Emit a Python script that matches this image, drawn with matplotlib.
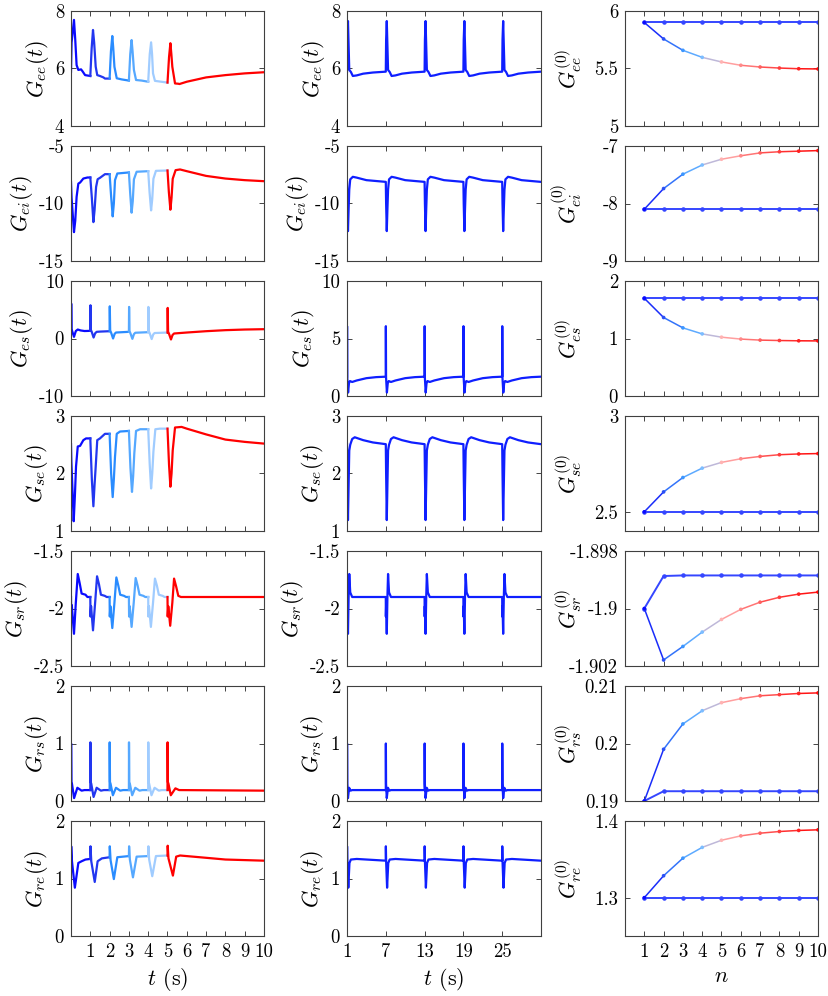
import numpy as np
import matplotlib
matplotlib.use('Agg')
import matplotlib.pyplot as plt
from matplotlib.collections import LineCollection
from matplotlib.colors import to_rgb

plt.rcParams.update({
    'font.family': 'cmr10',
    'mathtext.fontset': 'cm',
    'axes.unicode_minus': False,
    'axes.formatter.use_mathtext': True,
})

# ---- column 1: first 10 s, five stimulation cycles then relaxation ----
gee_t1 = [0, 0.03, 0.155, 0.22, 0.29, 0.38, 0.52, 0.59, 0.73, 1.0,
          1.07, 1.14, 1.2, 1.28, 1.36, 1.5, 1.68, 1.76, 2.0,
          2.07, 2.14, 2.19, 2.25, 2.37, 2.63, 3.0,
          3.07, 3.14, 3.19, 3.26, 3.37, 3.66, 4.0,
          4.08, 4.15, 4.2, 4.25, 4.35, 5.0,
          5.08, 5.15, 5.2, 5.25, 5.39, 5.56, 5.62, 6, 7, 8, 9, 10]
gee_v1 = [5.89, 6.9, 7.69, 7.0, 6.12, 5.95, 5.97, 5.91, 5.77, 5.74,
          6.7, 7.34, 6.9, 6.06, 5.77, 5.74, 5.69, 5.65, 5.65,
          6.6, 7.13, 6.7, 6.06, 5.66, 5.62, 5.58,
          6.5, 6.99, 6.6, 5.95, 5.6, 5.58, 5.54,
          6.5, 6.91, 6.5, 5.83, 5.57, 5.51,
          6.4, 6.88, 6.5, 6.06, 5.48, 5.47, 5.46, 5.54, 5.69, 5.77, 5.83, 5.87]

gei_t1 = [0, 0.03, 0.155, 0.22, 0.29, 0.38, 0.47, 0.64, 0.85, 1.0,
          1.08, 1.16, 1.22, 1.3, 1.38, 1.5, 1.76, 2.0,
          2.08, 2.16, 2.22, 2.28, 2.4, 3.0,
          3.07, 3.14, 3.2, 3.26, 3.4, 4.0,
          4.07, 4.15, 4.21, 4.27, 4.4, 5.0,
          5.07, 5.15, 5.21, 5.27, 5.42, 5.65, 6, 7, 8, 9, 10]
gei_v1 = [-8.12, -9.5, -12.49, -11.5, -9.43, -8.27, -8.18, -7.83, -7.74, -7.74,
          -9.5, -11.62, -10.6, -8.56, -7.89, -7.77, -7.45, -7.45,
          -9.4, -11.12, -10.0, -7.97, -7.39, -7.3,
          -9.2, -10.8, -9.8, -7.9, -7.24, -7.19,
          -9.0, -10.6, -9.6, -7.85, -7.16, -7.13,
          -9.0, -10.54, -9.5, -7.85, -7.1, -7.04, -7.19, -7.6, -7.83, -7.97, -8.06]

ges_t1 = [0, 0.01, 0.03, 0.07, 0.155, 0.25, 0.35, 0.5, 0.7, 1.0,
          1.01, 1.03, 1.08, 1.17, 1.25, 1.33, 1.5, 2.0,
          2.01, 2.03, 2.08, 2.18, 2.26, 2.33, 3.0,
          3.01, 3.03, 3.08, 3.18, 3.26, 3.33, 4.0,
          4.01, 4.03, 4.08, 4.18, 4.26, 4.33, 5.0,
          5.01, 5.03, 5.08, 5.18, 5.26, 5.34, 6, 7, 8, 9, 10]
ges_v1 = [1.7, 6.07, 1.6, 1.2, 0.29, 1.3, 1.56, 1.4, 1.3, 1.33,
          5.78, 1.5, 1.1, 0.17, 0.9, 1.16, 1.2, 1.27,
          5.6, 1.4, 1.0, 0.0, 0.8, 1.04, 1.16,
          5.49, 1.3, 0.9, -0.06, 0.75, 1.0, 1.1,
          5.49, 1.3, 0.9, -0.1, 0.7, 0.95, 1.04,
          5.32, 1.2, 0.8, -0.17, 0.6, 0.87, 1.04, 1.27, 1.45, 1.56, 1.62]

gse_t1 = [0, 0.02, 0.14, 0.2, 0.26, 0.35, 0.47, 0.64, 0.78, 1.0,
          1.08, 1.16, 1.22, 1.28, 1.36, 1.5, 1.76, 2.0,
          2.08, 2.16, 2.22, 2.28, 2.37, 2.54, 3.0,
          3.08, 3.16, 3.22, 3.28, 3.37, 3.58, 4.0,
          4.08, 4.15, 4.21, 4.27, 4.37, 4.61, 5.0,
          5.08, 5.15, 5.21, 5.27, 5.39, 5.73, 6, 7, 8, 9, 10]
gse_v1 = [2.51, 2.2, 1.17, 1.6, 2.12, 2.47, 2.48, 2.58, 2.61, 2.61,
          1.9, 1.43, 1.8, 2.12, 2.58, 2.61, 2.69, 2.69,
          2.0, 1.59, 1.9, 2.29, 2.69, 2.73, 2.74,
          2.1, 1.68, 1.95, 2.35, 2.74, 2.77, 2.77,
          2.15, 1.74, 2.0, 2.38, 2.77, 2.78, 2.78,
          2.15, 1.77, 2.0, 2.4, 2.8, 2.81, 2.78, 2.68, 2.59, 2.55, 2.52]

gsr_t1 = [0, 0.01, 0.04, 0.155, 0.25, 0.35, 0.45, 0.55, 0.75, 0.85, 1.0,
          1.01, 1.04, 1.14, 1.25, 1.35, 1.45, 1.55, 1.75, 1.85, 2.0,
          2.01, 2.04, 2.14, 2.25, 2.35, 2.45, 2.55, 2.75, 2.85, 3.0,
          3.01, 3.04, 3.14, 3.25, 3.35, 3.45, 3.55, 3.75, 3.85, 4.0,
          4.01, 4.04, 4.14, 4.25, 4.35, 4.45, 4.55, 4.75, 4.85, 5.0,
          5.01, 5.04, 5.14, 5.25, 5.34, 5.45, 5.56, 5.7, 10]
gsr_v1 = [-1.9, -2.07, -1.97, -2.22, -1.95, -1.70, -1.78, -1.87, -1.88, -1.9, -1.9,
          -2.07, -1.98, -2.19, -1.95, -1.72, -1.79, -1.88, -1.89, -1.9, -1.9,
          -2.07, -1.98, -2.17, -1.95, -1.73, -1.8, -1.88, -1.89, -1.9, -1.9,
          -2.07, -1.98, -2.16, -1.95, -1.735, -1.8, -1.88, -1.89, -1.9, -1.9,
          -2.07, -1.98, -2.16, -1.95, -1.74, -1.8, -1.88, -1.89, -1.9, -1.9,
          -2.07, -1.98, -2.15, -1.95, -1.74, -1.81, -1.89, -1.9, -1.9]

grs_t1 = [0, 0.005, 0.02, 0.05, 0.16, 0.33, 0.55, 0.7, 1.0,
          1.005, 1.02, 1.05, 1.17, 1.33, 1.55, 1.7, 2.0,
          2.005, 2.02, 2.05, 2.17, 2.33, 2.55, 2.7, 3.0,
          3.005, 3.02, 3.05, 3.17, 3.33, 3.55, 3.7, 4.0,
          4.005, 4.02, 4.05, 4.17, 4.33, 4.55, 4.7, 5.0,
          5.005, 5.02, 5.05, 5.17, 5.41, 5.6, 10]
grs_v1 = [0.19, 1.0, 0.33, 0.3, 0.05, 0.23, 0.18, 0.19, 0.19,
          1.02, 0.33, 0.3, 0.07, 0.23, 0.18, 0.19, 0.19,
          1.02, 0.33, 0.3, 0.1, 0.23, 0.18, 0.19, 0.19,
          1.02, 0.33, 0.3, 0.1, 0.23, 0.18, 0.19, 0.19,
          1.02, 0.33, 0.3, 0.1, 0.23, 0.18, 0.19, 0.19,
          1.02, 0.33, 0.3, 0.1, 0.22, 0.19, 0.18]

gre_t1 = [0, 0.01, 0.05, 0.2, 0.38, 0.55, 0.75, 1.0,
          1.01, 1.05, 1.23, 1.38, 1.6, 2.0,
          2.01, 2.05, 2.22, 2.4, 3.0,
          3.01, 3.05, 3.21, 3.4, 4.0,
          4.01, 4.05, 4.21, 4.4, 5.0,
          5.01, 5.05, 5.28, 5.45, 5.65, 7, 8, 10]
gre_v1 = [1.3, 1.56, 1.3, 0.84, 1.27, 1.3, 1.33, 1.34,
          1.56, 1.3, 0.94, 1.3, 1.35, 1.37,
          1.56, 1.32, 0.99, 1.37, 1.39,
          1.56, 1.33, 1.02, 1.38, 1.39,
          1.56, 1.33, 1.04, 1.39, 1.4,
          1.57, 1.35, 1.05, 1.38, 1.4, 1.36, 1.33, 1.31]

# ---- column 2: one 6 s period (time after spike onset), repeated at each onset ----
onsets2 = [1, 7, 13, 19, 25]
gee_r2 = [0, 0.05, 0.15, 0.25, 0.35, 0.6, 0.9, 1.5, 2.5, 4, 6]
gee_v2 = [5.89, 7.0, 7.65, 6.8, 5.95, 5.88, 5.74, 5.76, 5.82, 5.86, 5.89]
gei_r2 = [0, 0.05, 0.15, 0.25, 0.35, 0.5, 0.9, 1.5, 3, 6]
gei_v2 = [-8.12, -10.0, -12.4, -10.5, -8.8, -7.9, -7.68, -7.75, -7.97, -8.12]
ges_r2 = [0, 0.01, 0.04, 0.1, 0.17, 0.3, 0.45, 0.8, 1.5, 3, 4.5, 6]
ges_v2 = [1.68, 6.07, 1.6, 1.0, 0.3, 1.1, 1.3, 1.22, 1.35, 1.55, 1.64, 1.68]
gse_r2 = [0, 0.05, 0.15, 0.25, 0.35, 0.5, 0.8, 1.2, 2.5, 4, 6]
gse_v2 = [2.51, 2.0, 1.19, 1.8, 2.4, 2.5, 2.6, 2.63, 2.58, 2.54, 2.51]
gsr_r2 = [0, 0.01, 0.05, 0.15, 0.25, 0.35, 0.5, 0.8, 6]
gsr_v2 = [-1.9, -2.07, -1.98, -2.22, -1.9, -1.70, -1.86, -1.9, -1.9]
grs_r2 = [0, 0.01, 0.04, 0.15, 0.33, 0.55, 0.8, 6]
grs_v2 = [0.19, 1.0, 0.3, 0.05, 0.23, 0.18, 0.19, 0.19]
gre_r2 = [0, 0.01, 0.05, 0.2, 0.38, 0.6, 1.5, 6]
gre_v2 = [1.31, 1.56, 1.3, 0.84, 1.27, 1.33, 1.34, 1.31]

# ---- column 3: G^(0) against iteration n ----
n_iter = [1, 2, 3, 4, 5, 6, 7, 8, 9, 10]
gee_c = [5.9, 5.9, 5.9, 5.9, 5.9, 5.9, 5.9, 5.9, 5.9, 5.9]
gee_n = [5.9, 5.757, 5.658, 5.597, 5.557, 5.528, 5.513, 5.504, 5.498, 5.496]
gei_c = [-8.1, -8.1, -8.1, -8.1, -8.1, -8.1, -8.1, -8.1, -8.1, -8.1]
gei_n = [-8.1, -7.74, -7.49, -7.33, -7.23, -7.17, -7.12, -7.10, -7.09, -7.08]
ges_c = [1.7, 1.7, 1.7, 1.7, 1.7, 1.7, 1.7, 1.7, 1.7, 1.7]
ges_n = [1.7, 1.365, 1.185, 1.08, 1.023, 0.99, 0.972, 0.965, 0.96, 0.958]
gse_c = [2.5, 2.5, 2.5, 2.5, 2.5, 2.5, 2.5, 2.5, 2.5, 2.5]
gse_n = [2.5, 2.604, 2.679, 2.728, 2.758, 2.777, 2.789, 2.798, 2.802, 2.804]
gsr_c = [-1.9, -1.89887, -1.89885, -1.89885, -1.89885, -1.89885, -1.89885, -1.89885, -1.89885, -1.89885]
gsr_n = [-1.9, -1.90179, -1.90132, -1.90082, -1.90038, -1.90003, -1.89978, -1.89961, -1.8995, -1.89943]
grs_c = [0.19, 0.1917, 0.1917, 0.1917, 0.1917, 0.1917, 0.1917, 0.1917, 0.1917, 0.1917]
grs_n = [0.19, 0.199, 0.2034, 0.2057, 0.2071, 0.2078, 0.2083, 0.2085, 0.2087, 0.2088]
gre_c = [1.3, 1.3, 1.3, 1.3, 1.3, 1.3, 1.3, 1.3, 1.3, 1.3]
gre_n = [1.3, 1.3286, 1.3515, 1.3656, 1.3749, 1.3806, 1.3841, 1.3863, 1.3877, 1.3885]

subs = ['ee', 'ei', 'es', 'se', 'sr', 'rs', 're']
col1 = [(gee_t1, gee_v1), (gei_t1, gei_v1), (ges_t1, ges_v1), (gse_t1, gse_v1),
        (gsr_t1, gsr_v1), (grs_t1, grs_v1), (gre_t1, gre_v1)]
col2 = [(gee_r2, gee_v2), (gei_r2, gei_v2), (ges_r2, ges_v2), (gse_r2, gse_v2),
        (gsr_r2, gsr_v2), (grs_r2, grs_v2), (gre_r2, gre_v2)]
col3 = [(gee_c, gee_n), (gei_c, gei_n), (ges_c, ges_n), (gse_c, gse_n),
        (gsr_c, gsr_n), (grs_c, grs_n), (gre_c, gre_n)]

ylims1 = [(4, 8), (-15, -5), (-10, 10), (1, 3), (-2.5, -1.5), (0, 2), (0, 2)]
yticks1 = [[4, 6, 8], [-15, -10, -5], [-10, 0, 10], [1, 2, 3], [-2.5, -2, -1.5], [0, 1, 2], [0, 1, 2]]
ylabs1 = [['4', '6', '8'], ['-15', '-10', '-5'], ['-10', '0', '10'], ['1', '2', '3'],
          ['-2.5', '-2', '-1.5'], ['0', '1', '2'], ['0', '1', '2']]
ylims2 = [(4, 8), (-15, -5), (0, 10), (1, 3), (-2.5, -1.5), (0, 2), (0, 2)]
yticks2 = [[4, 6, 8], [-15, -10, -5], [0, 5, 10], [1, 2, 3], [-2.5, -2, -1.5], [0, 1, 2], [0, 1, 2]]
ylabs2 = [['4', '6', '8'], ['-15', '-10', '-5'], ['0', '5', '10'], ['1', '2', '3'],
          ['-2.5', '-2', '-1.5'], ['0', '1', '2'], ['0', '1', '2']]
ylims3 = [(5, 6), (-9, -7), (0, 2), (2.4, 3), (-1.902, -1.898), (0.19, 0.21), (1.25, 1.4)]
yticks3 = [[5, 5.5, 6], [-9, -8, -7], [0, 1, 2], [2.5, 3], [-1.902, -1.9, -1.898], [0.19, 0.2, 0.21], [1.3, 1.4]]
ylabs3 = [['5', '5.5', '6'], ['-9', '-8', '-7'], ['0', '1', '2'], ['2.5', '3'],
          ['-1.902', '-1.9', '-1.898'], ['0.19', '0.2', '0.21'], ['1.3', '1.4']]

cyc_colors = ['#0a0aff', '#2236f0', '#2a8cff', '#55a8ff', '#a0ccff', '#ff0000']
cyc_bounds = [(0, 1), (1, 2), (2, 3), (3, 4), (4, 5), (5, 10)]
n_colors = ['#0a0aff', '#2a50f5', '#3c96ff', '#7dbdff', '#ffb3b3',
            '#ff8a8a', '#ff6060', '#ff3c3c', '#ff2020', '#ff0a0a']
blue2 = '#0f1fff'
const_col = '#3546ff'

W, H = 829, 996
fig = plt.figure(figsize=(W / 100, H / 100), dpi=100)
lefts = [71, 347, 625]
widths = [193, 194, 193]
tops = [11, 146, 281, 416, 551, 686, 821]
ah = 115
tick_fs = 13.5
lab_fs = 16


def style(ax):
    ax.tick_params(direction='in', top=True, right=True, length=3.5, width=0.6,
                   labelsize=tick_fs, color='#262626', pad=5)
    for s in ax.spines.values():
        s.set_color('#404040')
        s.set_linewidth(0.8)


for i in range(7):
    bottom = 1 - (tops[i] + ah) / H
    axs = [fig.add_axes([lefts[c] / W, bottom, widths[c] / W, ah / H]) for c in range(3)]
    last = (i == 6)

    # column 1
    ax = axs[0]
    t = np.array(col1[i][0])
    v = np.array(col1[i][1])
    for (a, b), c in zip(cyc_bounds, cyc_colors):
        m = (t >= a) & (t <= b)
        ax.plot(t[m], v[m], color=c, lw=1.6)
    ax.set_xlim(0, 10)
    ax.set_xticks(range(1, 11))
    ax.set_ylim(*ylims1[i])
    ax.set_yticks(yticks1[i])
    ax.set_yticklabels(ylabs1[i])
    ax.set_ylabel(r'$G_{%s}(t)$' % subs[i], fontsize=lab_fs, labelpad=3)

    # column 2
    ax = axs[1]
    rel = np.array(col2[i][0])
    vals = np.array(col2[i][1])
    tt = np.concatenate([t0 + rel for t0 in onsets2])
    vv = np.concatenate([vals for _ in onsets2])
    ax.plot(tt, vv, color=blue2, lw=1.6)
    ax.set_xlim(1, 31)
    ax.set_xticks(onsets2)
    ax.set_ylim(*ylims2[i])
    ax.set_yticks(yticks2[i])
    ax.set_yticklabels(ylabs2[i])
    ax.set_ylabel(r'$G_{%s}(t)$' % subs[i], fontsize=lab_fs, labelpad=3)

    # column 3
    ax = axs[2]
    cvals, nvals = col3[i]
    ax.plot(n_iter, cvals, '-', color=const_col, lw=1.4, marker='.', ms=4.5)
    segs = [[(n_iter[k], nvals[k]), (n_iter[k + 1], nvals[k + 1])] for k in range(9)]
    seg_cols = [tuple((np.array(to_rgb(n_colors[k])) + np.array(to_rgb(n_colors[k + 1]))) / 2)
                for k in range(9)]
    ax.add_collection(LineCollection(segs, colors=seg_cols, linewidths=1.1))
    ax.scatter(n_iter, nvals, c=n_colors, s=7, zorder=3, linewidths=0)
    ax.set_xlim(0, 10)
    ax.set_xticks(range(1, 11))
    ax.set_ylim(*ylims3[i])
    ax.set_yticks(yticks3[i])
    ax.set_yticklabels(ylabs3[i])
    ax.set_ylabel(r'$G^{(0)}_{%s}$' % subs[i], fontsize=lab_fs)
    ax.yaxis.set_label_coords(-0.21, 0.5)

    for ax in axs:
        style(ax)
        if not last:
            ax.set_xticklabels([])

    if last:
        axs[0].set_xticklabels([str(k) for k in range(1, 11)])
        axs[0].set_xlabel(r'$t$ (s)', fontsize=lab_fs)
        axs[1].set_xticklabels([str(k) for k in onsets2])
        axs[1].set_xlabel(r'$t$ (s)', fontsize=lab_fs)
        axs[2].set_xticklabels([str(k) for k in range(1, 11)])
        axs[2].set_xlabel(r'$n$', fontsize=lab_fs)

fig.savefig('out.png', dpi=100)
